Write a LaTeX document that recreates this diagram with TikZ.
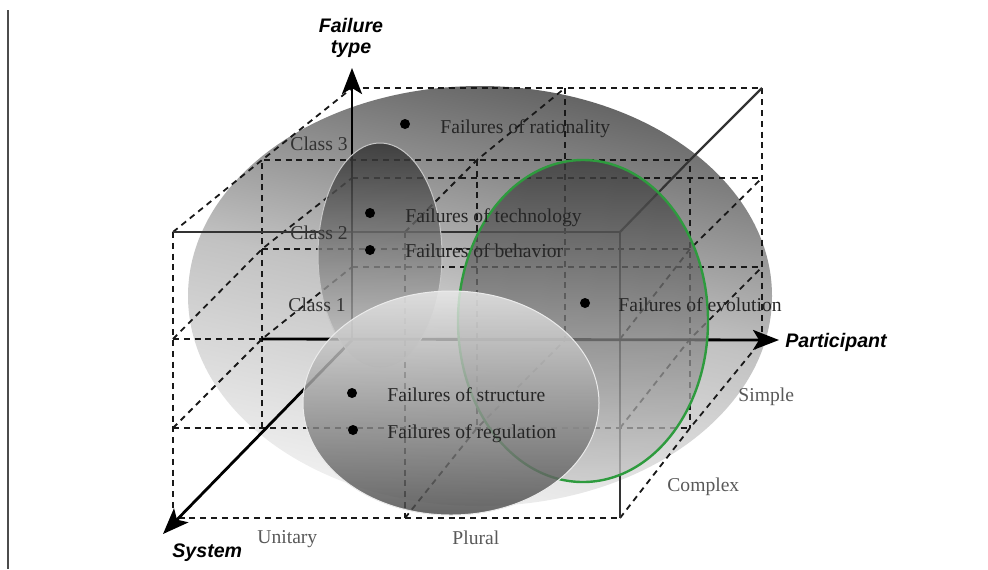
\documentclass[tikz,border=0pt]{standalone}
\usepackage{fontspec}
\setmainfont{Liberation Serif}
\newfontfamily\axisfont{Liberation Sans}
\usetikzlibrary{arrows.meta}
\definecolor{leafgreen}{HTML}{2E9B3E}

\begin{document}
\begin{tikzpicture}[x=0.5pt, y=-0.5pt,
    dashline/.style={black!90, line width=0.9pt, dash pattern=on 3pt off 2.4pt},
    solidline/.style={black!80, line width=1.1pt},
    axisline/.style={black, line width=1.4pt, -{Stealth[length=13pt, width=10pt, inset=3pt]}},
    blob/.style={circle, fill=black, inner sep=0pt, minimum size=5pt},
    failtext/.style={anchor=base west, inner sep=0pt, text=black!85, font=\fontsize{9.8}{11}\selectfont},
    classtext/.style={failtext, anchor=base east, text=black!80},
    dimtext/.style={failtext, text=black!65},
    axistext/.style={inner sep=0pt, font=\axisfont\bfseries\itshape\fontsize{9.8}{10.5}\selectfont}]

    \useasboundingbox (0,0) rectangle (988,569);
    \draw[black!70, line width=0.8pt] (8,10) -- (8,569);

    % big background ellipse
    \shade[top color=black!62, bottom color=black!5, middle color=black!24, shading angle=-12] (480,296) ellipse [x radius=292, y radius=210];

    % grid points: plane (b/m/f), column 0-2, level 0-3
    \foreach \p/\xa/\xb/\xc/\ya/\yb/\yc/\yd in {b/352/565/762/340/267/178/88,
        m/262/477/690/428/339/249/160, f/173/405/620/518/428/339/232}{
      \foreach \c/\xx in {0/\xa,1/\xb,2/\xc}
        \foreach \l/\yy in {0/\ya,1/\yb,2/\yc,3/\yd}
          \coordinate (\p\c\l) at (\xx,\yy);
    }
    \coordinate (tipup) at (352,68);
    \coordinate (tipright) at (779,340);
    \coordinate (tipdown) at (163,534);

    % back plane
    \draw[dashline] (b03) -- (b23) -- (b20);
    \draw[dashline] (b13) -- (b10);
    \draw[dashline] (b02) -- (b22);
    \draw[dashline] (b01) -- (b21);
    % middle plane
    \draw[dashline] (m00) -- (m03) -- (m23) -- (m20);
    \draw[dashline] (m13) -- (m10);
    \draw[dashline] (m02) -- (m22);
    % front plane
    \draw[dashline] (f03) -- (f00) -- (f20);
    \draw[dashline] (f13) -- (f10);
    \draw[dashline] (f02) -- (m01);
    \draw[dashline] (f01) -- (m20);
    % depth lines
    \foreach \c/\l in {0/3,1/3,0/2,0/1,2/2,2/1,2/0,1/0}
      \draw[dashline] (f\c\l) -- (m\c\l) -- (b\c\l);
    \draw[solidline] (f03) -- (f23) -- (f20);
    \draw[solidline] (f23) -- (m23) -- (b23);

    % axes
    \draw[axisline] (b00) -- (tipup);
    \draw[axisline] (m01) -- (tipright);
    \draw[axisline] (b00) -- (tipdown);

    % failure regions
    \shadedraw[top color=black!82, bottom color=black!20, fill opacity=0.8, draw=black!22, line width=0.5pt] (380,255) ellipse [x radius=62, y radius=112];
    \shadedraw[top color=black!78, bottom color=black!22, fill opacity=0.75, draw=leafgreen, line width=1.2pt] (583,321) ellipse [x radius=125, y radius=161];
    \shadedraw[top color=black!8, bottom color=black!72, fill opacity=0.82, draw=black!8, line width=0.5pt] (451,403) ellipse [x radius=148, y radius=112];

    % failures
    \node[blob] (ratdot) at (405,124) {};
    \node[failtext] (rat) at (440,133) {Failures of rationality};
    \node[blob] (techdot) at (370,213) {};
    \node[failtext] (tech) at (405,222) {Failures of technology};
    \node[blob] (behdot) at (370,250) {};
    \node[failtext] (beh) at (405,257) {Failures of behavior};
    \node[blob] (evodot) at (585,303) {};
    \node[failtext] (evo) at (618,311) {Failures of evolution};
    \node[blob] (strdot) at (352,393) {};
    \node[failtext] (str) at (387,401) {Failures of structure};
    \node[blob] (regdot) at (353,430) {};
    \node[failtext] (reg) at (387,438) {Failures of regulation};

    % classes and categories
    \node[classtext] (cl3) at (348,150) {Class 3};
    \node[classtext] (cl2) at (348,239) {Class 2};
    \node[classtext] (cl1) at (346,311) {Class 1};
    \node[dimtext] (simple) at (738,401) {Simple};
    \node[dimtext] (complex) at (667,491) {Complex};
    \node[dimtext] (unitary) at (257,543) {Unitary};
    \node[dimtext] (plural) at (452,544) {Plural};

    % axis names
    \node[axistext, align=center] (ftype) at (351,38) {Failure\\type};
    \node[axistext, anchor=base west] (part) at (785,347) {Participant};
    \node[axistext, anchor=base west] (sys) at (172,557) {System};
\end{tikzpicture}
\end{document}
